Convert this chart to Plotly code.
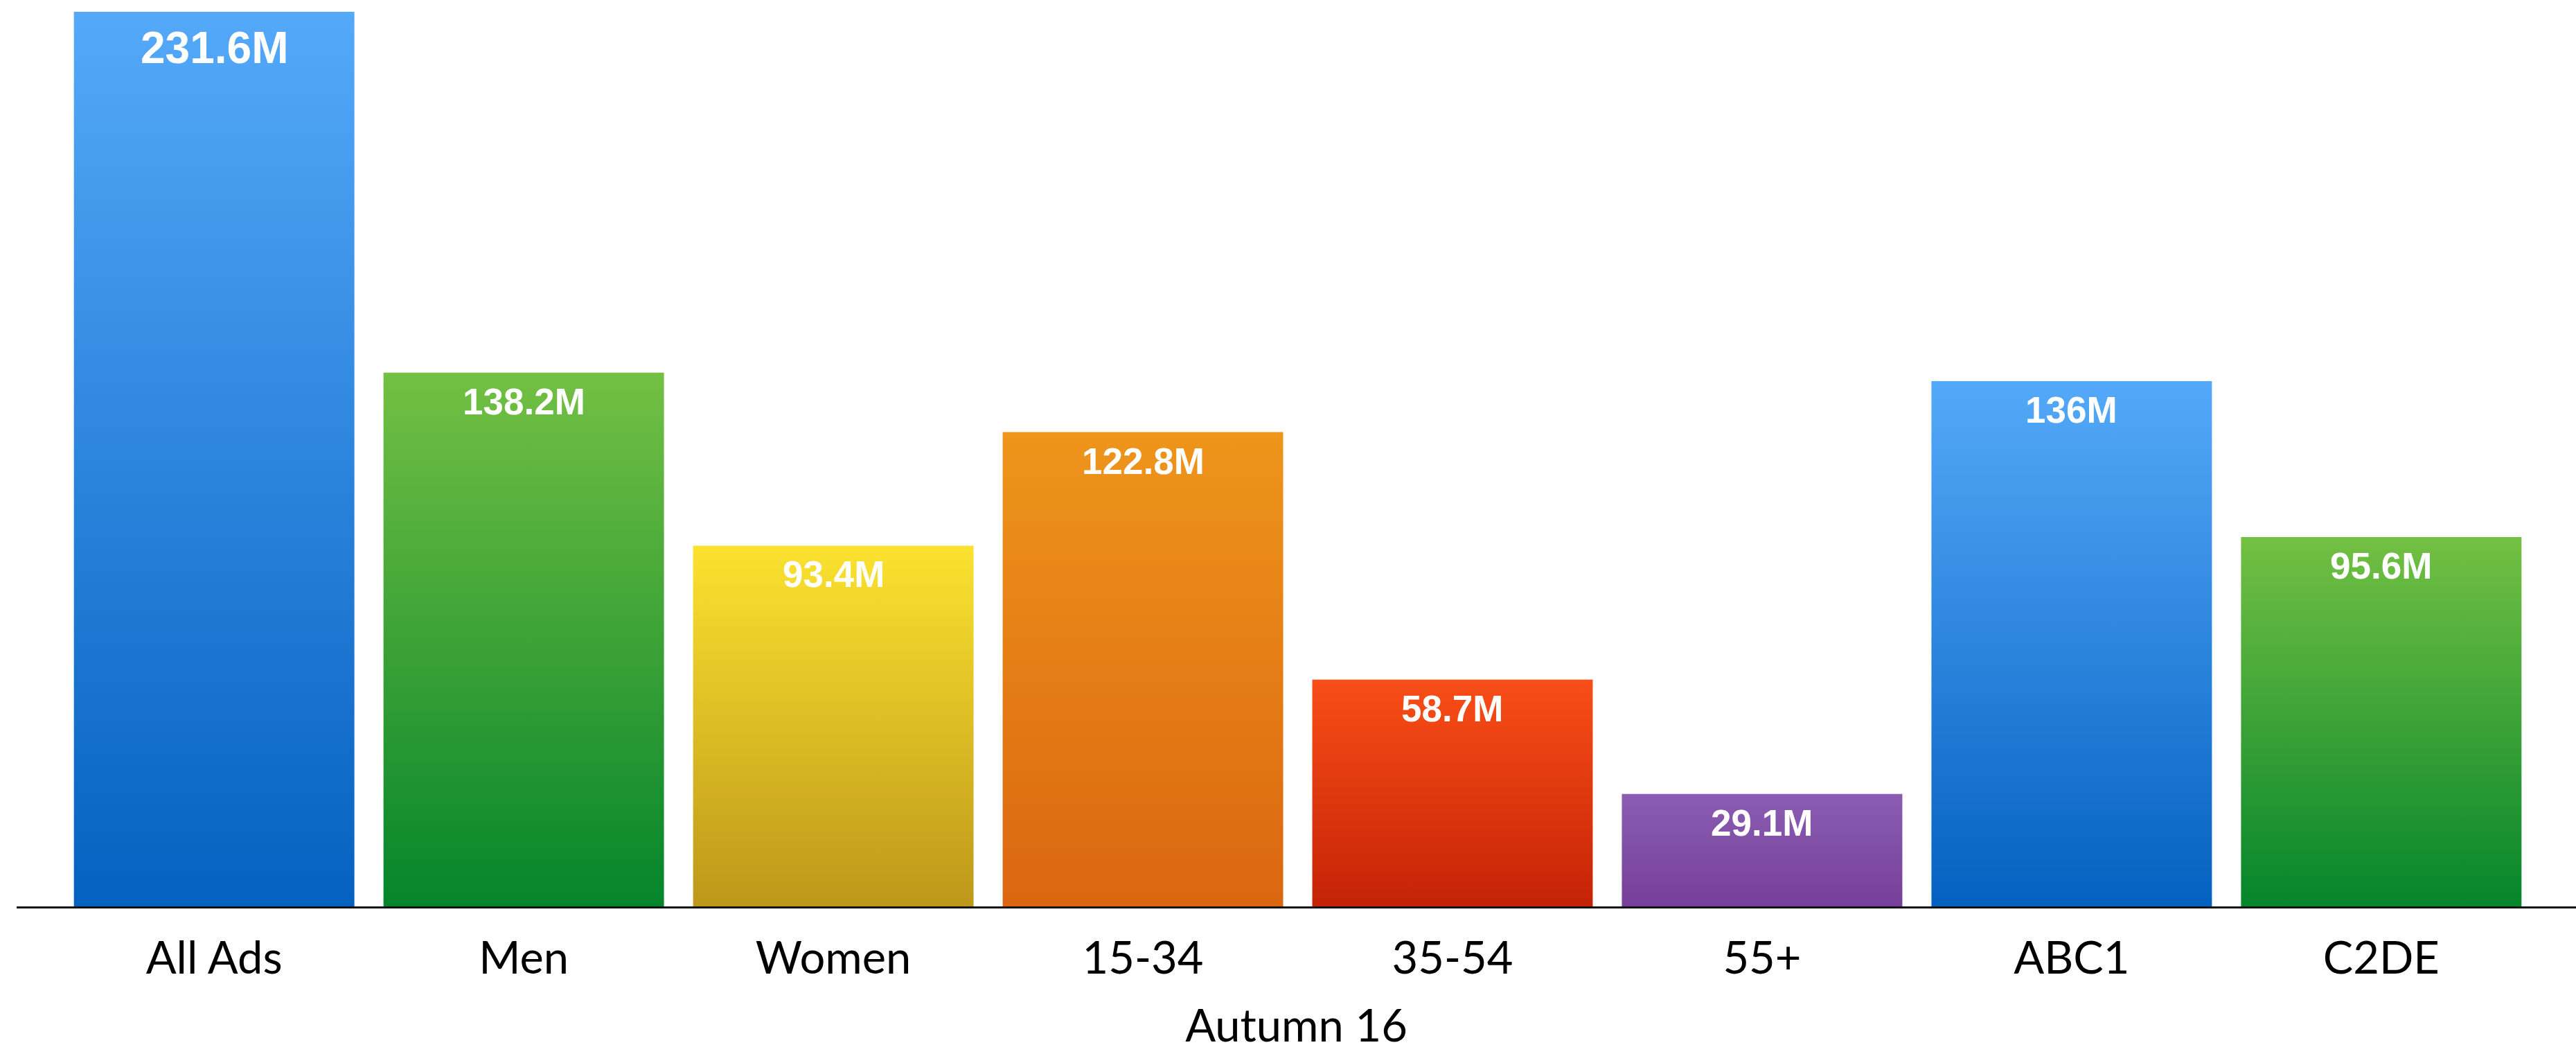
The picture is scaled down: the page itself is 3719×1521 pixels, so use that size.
import plotly.graph_objects as go

categories = ["All Ads", "Men", "Women", "15-34", "35-54", "55+", "ABC1", "C2DE"]
values = [231.6, 138.2, 93.4, 122.8, 58.7, 29.1, 136.0, 95.6]
value_labels = ["231.6M", "138.2M", "93.4M", "122.8M", "58.7M", "29.1M", "136M", "95.6M"]
top_colors = ["#54A9F9", "#73C043", "#FBE22F", "#EE951B", "#F94E17", "#8A5DB2", "#54A9F9", "#73C043"]
bottom_colors = ["#0561C0", "#05852B", "#BD981A", "#DB6610", "#C42306", "#773F99", "#0561C0", "#05852B"]
x_title = "Autumn 16"

HALF = 0.453

fig = go.Figure()
for i, (cat, v) in enumerate(zip(categories, values)):
    xs = [i - HALF, i - HALF, i + HALF, i + HALF, i - HALF]
    ys = [0, v, v, 0, 0]
    fig.add_trace(go.Scatter(
        x=xs, y=ys, mode="lines", line=dict(width=0),
        fill="toself",
        fillgradient=dict(type="vertical",
                          colorscale=[[0, bottom_colors[i]], [1, top_colors[i]]]),
        name=cat, showlegend=False, hoverinfo="skip",
    ))

for i, (v, lab) in enumerate(zip(values, value_labels)):
    big = (i == 0)
    fig.add_annotation(
        x=i, y=v, text=lab, showarrow=False, xanchor="center", yanchor="top",
        yshift=-14 if big else -10,
        font=dict(family="Liberation Sans, Arial, sans-serif", size=64 if big else 53,
                  color="white", weight="bold"),
    )

fig.update_layout(
    width=3719, height=1521,
    margin=dict(l=24, r=0, t=0, b=213),
    plot_bgcolor="white", paper_bgcolor="white",
    showlegend=False,
    xaxis=dict(
        range=[-0.638, 7.629], tickmode="array", tickvals=list(range(len(categories))),
        ticktext=categories, showgrid=False, zeroline=False,
        showline=True, linecolor="#111111", linewidth=3, ticks="",
        ticklabelstandoff=16,
        tickfont=dict(family="Lato, sans-serif", size=65, color="black"),
        title=dict(text=x_title, font=dict(family="Lato, sans-serif", size=65, color="black"),
                   standoff=40),
        fixedrange=True,
    ),
    yaxis=dict(range=[0, 234.66], visible=False, showgrid=False, zeroline=False),
)

fig.write_html("out.html")
